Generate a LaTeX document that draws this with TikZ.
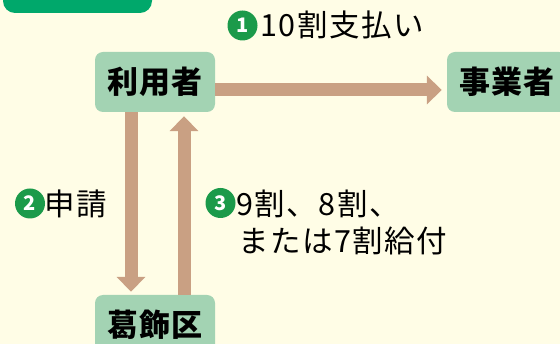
\documentclass[tikz,border=0pt]{standalone}
\usepackage{fontspec}
\setmainfont{Noto Sans CJK JP}
\usetikzlibrary{arrows.meta}
\definecolor{bgc}{HTML}{FFFDE6}
\definecolor{tabc}{HTML}{00A86B}
\definecolor{boxc}{HTML}{A3D3B3}
\definecolor{arrc}{HTML}{C9A083}
\definecolor{numc}{HTML}{1B9A4A}
\tikzset{
  box/.style={fill=boxc, rounded corners=8pt, minimum width=120pt, minimum height=60pt, inner sep=0pt, font=\fontsize{31}{31}\selectfont\bfseries\addfontfeature{LetterSpace=2}},
  num/.style={circle, fill=numc, text=white, minimum size=30pt, inner sep=0pt, font=\fontsize{20}{20}\selectfont\bfseries},
  lbl/.style={anchor=west, inner sep=0pt, font=\fontsize{30.5}{30.5}\selectfont\addfontfeature{LetterSpace=5}},
  arr/.style={draw=arrc, line width=13pt, -{Triangle[length=15pt,width=28pt]}, arrc}
}
\begin{document}
\begin{tikzpicture}[x=1pt,y=-1pt]
\useasboundingbox (0,0) rectangle (560,344);
\fill[bgc] (0,0) rectangle (560,344);
\fill[tabc, rounded corners=12pt] (3,-20) rectangle (152,13);
\node[box] (user) at (155,82) {利用者};
\node[box] (biz) at (507,82) {事業者};
\node[box] (ward) at (155,325) {葛飾区};
\draw[arr] ([yshift=-8pt]user.east) -- ([yshift=-8pt,xshift=-5pt]biz.west);
\draw[arr] ([xshift=-24pt]user.south) -- ([xshift=-24pt,yshift=3pt]ward.north);
\draw[arr] ([xshift=29pt]ward.north) -- ([xshift=29pt,yshift=-4pt]user.south);
\node[num] (n1) at (242.5,25.5) {1};
\node[lbl] (l1) at (260,25) {10割支払い};
\node[num] (n2) at (30,203.5) {2};
\node[lbl] (l2) at (44,204) {申請};
\node[num] (n3) at (220.5,203) {3};
\node[lbl] (l3a) at (236,204) {9割、8割、};
\node[lbl] (l3b) at (238,241) {または7割給付};
\end{tikzpicture}
\end{document}
